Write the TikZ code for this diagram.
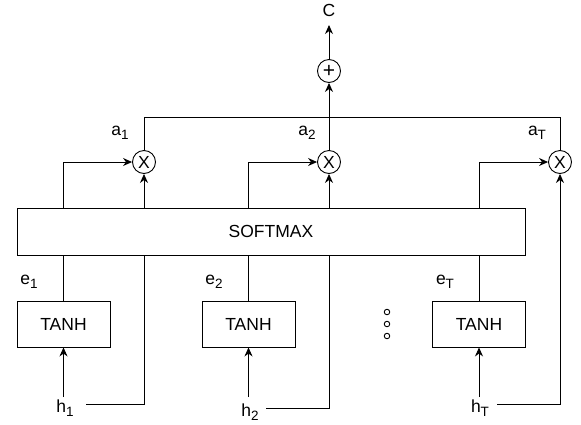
\documentclass[tikz,border=0pt]{standalone}
\usepackage{fontspec}
\setmainfont{Liberation Sans}
\usetikzlibrary{arrows.meta}
\newcommand\sbs[1]{\raisebox{-0.4ex}{\fontsize{13.5}{15}\selectfont #1}}
\begin{document}
\begin{tikzpicture}[x=1pt,y=-1pt, line width=0.9pt,
  txt/.style={font=\fontsize{17.5}{20}\selectfont},
  box/.style={draw, txt, minimum width=93pt, minimum height=46pt, inner sep=0pt},
  op/.style={draw, circle, txt, minimum size=23pt, inner sep=0pt},
  lbl/.style={txt, inner sep=0pt},
  arr/.style={-{Stealth[length=9pt,width=8pt]}},
  dotc/.style={draw, circle, minimum size=5.5pt, inner sep=0pt, line width=0.9pt}]
\useasboundingbox (0,0) rectangle (581,424);
% main blocks
\node[box, minimum width=508pt, minimum height=47pt] (sm) at (271,231.5) {SOFTMAX};
\node[box] (t1) at (63.5,324) {TANH};
\node[box] (t2) at (248.5,324) {TANH};
\node[box] (t3) at (479,324) {TANH};
% operators
\node[op] (x1) at (144,162) {X};
\node[op] (x2) at (329,162) {X};
\node[op] (x3) at (560,162) {X};
\node[op, font=\fontsize{21}{21}\selectfont] (pl) at (329,71) {+};
% labels
\node[lbl] (c) at (329,10) {C};
\node[lbl] (a1) at (120,133) {a\sbs{1}};
\node[lbl] (a2) at (307,133) {a\sbs{2}};
\node[lbl] (a3) at (537,133) {a\sbs{T}};
\node[lbl] (e1) at (29,282) {e\sbs{1}};
\node[lbl] (e2) at (214,282) {e\sbs{2}};
\node[lbl] (e3) at (445,282) {e\sbs{T}};
\node[lbl] (h1) at (65,408) {h\sbs{1}};
\node[lbl] (h2) at (250,412) {h\sbs{2}};
\node[lbl] (h3) at (480,408) {h\sbs{T}};
% ellipsis dots
\node[dotc] (d1) at (387,312) {};
\node[dotc] (d2) at (387,324) {};
\node[dotc] (d3) at (387,336) {};
% free ends
\coordinate (ct) at (329,25);
\coordinate (top) at (329,117);
\coordinate (s1) at (63.5,397);
\coordinate (s2) at (248.5,397);
\coordinate (s3) at (479,397);
\coordinate (l1) at (86,404);
\coordinate (l2) at (266,408);
\coordinate (l3) at (497,404);
% output
\draw[arr] (pl.north) -- (ct);
\draw[arr] (x2.north) -- (pl.south);
\draw (x1.north) -- (x1 |- top) -- (x3 |- top) -- (x3.north);
% inputs into tanh
\draw[arr] (s1) -- (t1.south);
\draw[arr] (s2) -- (t2.south);
\draw[arr] (s3) -- (t3.south);
% tanh to softmax
\draw (t1.north) -- (t1 |- sm.south);
\draw (t2.north) -- (t2 |- sm.south);
\draw (t3.north) -- (t3 |- sm.south);
% softmax to multipliers
\draw[arr] (t1 |- sm.north) |- (x1.west);
\draw[arr] (t2 |- sm.north) |- (x2.west);
\draw[arr] (t3 |- sm.north) |- (x3.west);
% hidden states to multipliers
\draw (l1) -| (x1 |- sm.south);
\draw[arr] (x1 |- sm.north) -- (x1.south);
\draw (l2) -| (x2 |- sm.south);
\draw[arr] (x2 |- sm.north) -- (x2.south);
\draw[arr] (l3) -| (x3.south);
\end{tikzpicture}
\end{document}
